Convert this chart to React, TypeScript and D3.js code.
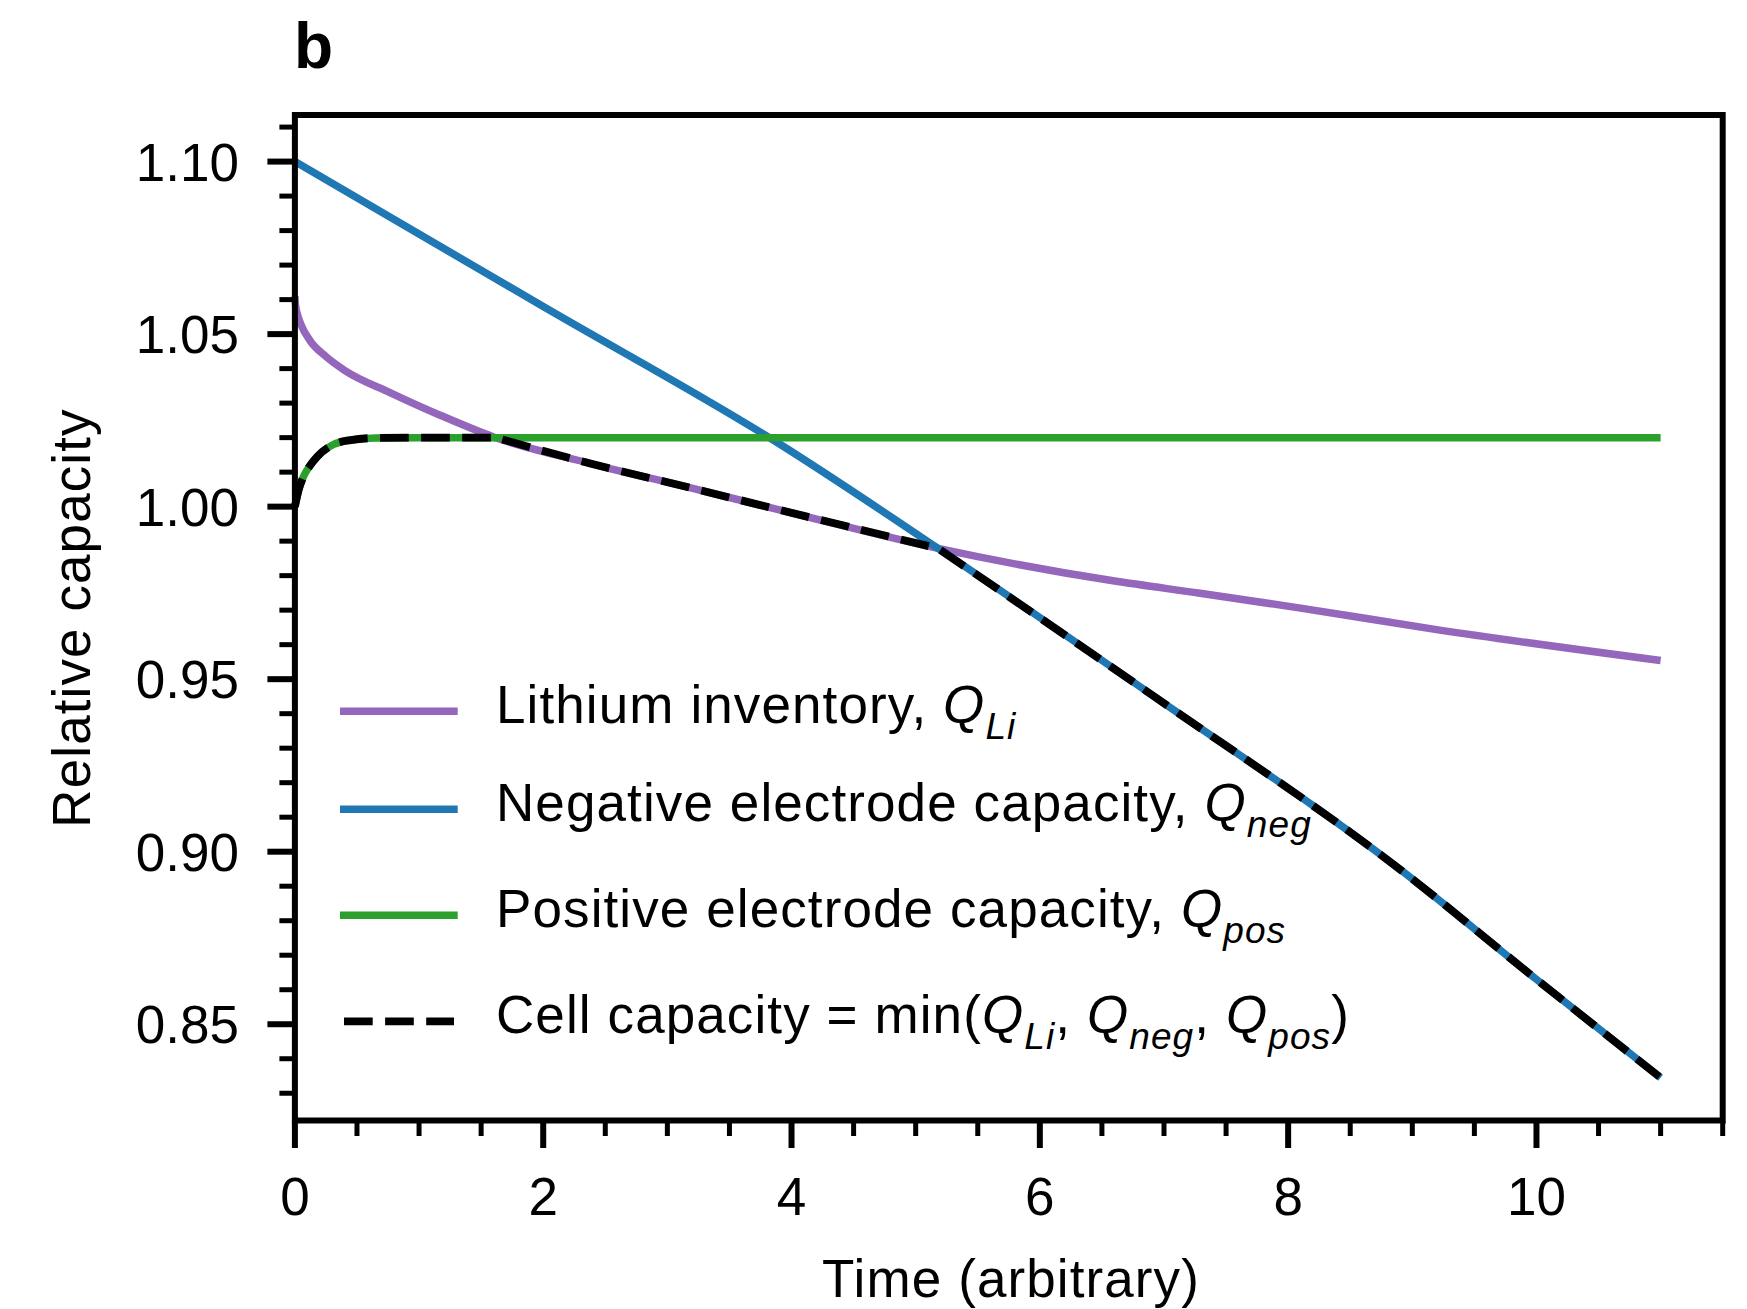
import React from "react";
import * as d3 from "d3";

// ---- data ----
const timeLi = [0, 0.005, 0.02, 0.05, 0.12, 0.25, 0.4, 0.77, 1.17, 1.6, 2.38, 3.18, 3.91, 5.18, 6.59, 7.29, 8.1, 9.17, 11.0];
const qLi = [1.061, 1.0585, 1.0558, 1.0527, 1.0482, 1.0435, 1.0395, 1.033, 1.0265, 1.0202, 1.0125, 1.0055, 0.999, 0.9879, 0.9785, 0.9749, 0.9706, 0.9645, 0.9554];

const timeNeg = [0, 2, 3.91, 5.18, 6.94, 8.9, 10, 11];
const qNeg = [1.1, 1.058, 1.018, 0.9879, 0.9445, 0.8949, 0.863, 0.8345];

const timePos = [0, 0.03, 0.07, 0.12, 0.18, 0.31, 0.45, 0.65, 1.0, 1.6, 11];
const qPos = [1.0, 1.0048, 1.0088, 1.0118, 1.0145, 1.018, 1.0193, 1.0199, 1.02, 1.02, 1.02];

// where the limiting capacity switches
const switchPosToLi = 1.6;
const switchLiToNeg = 5.18;

const xMajorTicks = [0, 2, 4, 6, 8, 10];
const yMajorTicks = [0.85, 0.9, 0.95, 1.0, 1.05, 1.1];

const colors = { li: "#9467bd", neg: "#1f77b4", pos: "#2ca02c", cell: "#000000" };

const W = 1747;
const H = 1309;
const FONT = "'Liberation Sans', Arial, Helvetica, sans-serif";

export default function App() {
  const x = d3.scaleLinear().domain([0, 11.5]).range([294.9, 1722.7]);
  const y = d3.scaleLinear().domain([0.8221, 1.1135]).range([1120.5, 115]);

  const toPts = (t: number[], v: number[]) => t.map((ti, i) => [ti, v[i]] as [number, number]);
  const line = d3
    .line<[number, number]>()
    .x((d) => x(d[0]))
    .y((d) => y(d[1]))
    .curve(d3.curveMonotoneX);

  const liPts = toPts(timeLi, qLi);
  const negPts = toPts(timeNeg, qNeg);
  const posPts = toPts(timePos, qPos);

  // cell capacity = min of the three: segments of the limiting curve
  const seg1 = posPts.filter((d) => d[0] <= switchPosToLi);
  const seg2 = liPts.filter((d) => d[0] >= switchPosToLi && d[0] <= switchLiToNeg);
  const seg3 = negPts.filter((d) => d[0] >= switchLiToNeg);
  const cellD = [line(seg1) || "", (line(seg2) || "").replace(/^M/, "L"), (line(seg3) || "").replace(/^M/, "L")].join("");

  const x0 = x(0);
  const x1 = x(11.5);
  const yTop = y(1.1135);
  const yBot = y(0.8221);

  const xMinor = d3.range(0, 24).map((i) => i * 0.5).filter((v) => v % 2 !== 0);
  const yMinor = d3.range(83, 112).map((i) => i / 100).filter((_, i) => (83 + i) % 5 !== 0);

  const fmtY = d3.format(".2f");
  const fs = 53;
  const subFs = 37;
  const subDy = 16;
  const ls = 1.1;

  const legendRows = [711.3, 809.3, 915.3, 1021.3];
  const hx0 = 340;
  const hx1 = 457.7;
  const tx = 496;

  const Q = (sub: string, after: string) => (
    <>
      <tspan fontStyle="italic">Q</tspan>
      <tspan fontStyle="italic" fontSize={subFs} dy={subDy}>
        {sub}
      </tspan>
      <tspan dy={-subDy}>{after}</tspan>
    </>
  );

  return (
    <svg
      width={W}
      height={H}
      style={{ position: "absolute", left: 0, top: 0, background: "#ffffff" }}
      fontFamily={FONT}
    >
      <rect x={0} y={0} width={W} height={H} fill="#ffffff" />

      {/* curves */}
      <path d={line(liPts) || ""} fill="none" stroke={colors.li} strokeWidth={7.5} />
      <path d={line(negPts) || ""} fill="none" stroke={colors.neg} strokeWidth={7.5} />
      <path d={line(posPts) || ""} fill="none" stroke={colors.pos} strokeWidth={7.5} />
      <path d={cellD} fill="none" stroke={colors.cell} strokeWidth={7.8} strokeDasharray="28.7 12.4" />

      {/* y ticks */}
      {yMinor.map((v) => (
        <line key={"ym" + v} x1={x0 - 15.5} x2={x0} y1={y(v)} y2={y(v)} stroke="#000" strokeWidth={5} />
      ))}
      {yMajorTicks.map((v) => (
        <g key={"yM" + v}>
          <line x1={x0 - 27.5} x2={x0} y1={y(v)} y2={y(v)} stroke="#000" strokeWidth={6} />
          <text x={239} y={y(v) + 19} textAnchor="end" fontSize={fs} fill="#000">
            {fmtY(v)}
          </text>
        </g>
      ))}

      {/* x ticks */}
      {xMinor.map((v) => (
        <line key={"xm" + v} x1={x(v)} x2={x(v)} y1={yBot} y2={yBot + 15.5} stroke="#000" strokeWidth={5} />
      ))}
      {xMajorTicks.map((v) => (
        <g key={"xM" + v}>
          <line x1={x(v)} x2={x(v)} y1={yBot} y2={yBot + 27.5} stroke="#000" strokeWidth={6} />
          <text x={x(v)} y={1215} textAnchor="middle" fontSize={fs} fill="#000">
            {String(v)}
          </text>
        </g>
      ))}

      {/* frame */}
      <rect x={x0} y={yTop} width={x1 - x0} height={yBot - yTop} fill="none" stroke="#000" strokeWidth={6} />

      {/* axis titles */}
      <text x={1011} y={1297} textAnchor="middle" fontSize={fs} letterSpacing={ls} fill="#000">
        Time (arbitrary)
      </text>
      <text transform={`translate(89.5, 618) rotate(-90)`} textAnchor="middle" fontSize={fs} letterSpacing={ls} fill="#000">
        Relative capacity
      </text>

      {/* panel label */}
      <text x={294} y={68} fontSize={64} fontWeight="bold" fill="#000">
        b
      </text>

      {/* legend */}
      <line x1={hx0} x2={hx1} y1={legendRows[0]} y2={legendRows[0]} stroke={colors.li} strokeWidth={7.5} />
      <line x1={hx0} x2={hx1} y1={legendRows[1]} y2={legendRows[1]} stroke={colors.neg} strokeWidth={7.5} />
      <line x1={hx0} x2={hx1} y1={legendRows[2]} y2={legendRows[2]} stroke={colors.pos} strokeWidth={7.5} />
      <line x1={344} x2={454} y1={legendRows[3]} y2={legendRows[3]} stroke={colors.cell} strokeWidth={7.8} strokeDasharray="28.7 12.4" />

      <text x={tx} y={legendRows[0] + 12} fontSize={fs} letterSpacing={ls} fill="#000" style={{ whiteSpace: "pre" }}>
        <tspan>{"Lithium inventory, "}</tspan>
        {Q("Li", "")}
      </text>
      <text x={tx} y={legendRows[1] + 12} fontSize={fs} letterSpacing={ls} fill="#000" style={{ whiteSpace: "pre" }}>
        <tspan>{"Negative electrode capacity, "}</tspan>
        {Q("neg", "")}
      </text>
      <text x={tx} y={legendRows[2] + 12} fontSize={fs} letterSpacing={ls} fill="#000" style={{ whiteSpace: "pre" }}>
        <tspan>{"Positive electrode capacity, "}</tspan>
        {Q("pos", "")}
      </text>
      <text x={tx} y={legendRows[3] + 12} fontSize={fs} letterSpacing={ls} fill="#000" style={{ whiteSpace: "pre" }}>
        <tspan>{"Cell capacity = min("}</tspan>
        {Q("Li", ", ")}
        {Q("neg", ", ")}
        {Q("pos", ")")}
      </text>
    </svg>
  );
}
